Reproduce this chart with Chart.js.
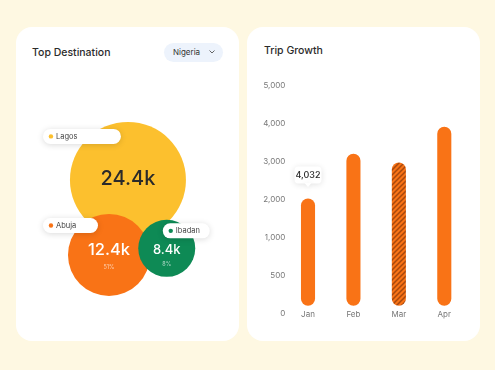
<!DOCTYPE html>
<html>
<head>
<meta charset="utf-8">
<script src="https://cdn.jsdelivr.net/npm/chart.js@4.4.1/dist/chart.umd.min.js"></script>
<style>
  body { margin:0; width:495px; height:370px; background:#FEF8E2; font-family: Inter, 'Open Sans', sans-serif; overflow:hidden; position:relative; }
  .card { position:absolute; top:27px; height:314px; background:#fff; border-radius:16px; }
  #left { left:16px; width:223px; }
  #right { left:247px; width:233px; }
  .title { position:absolute; font-size:10.5px; color:#2b2b2b; font-weight:500; line-height:13px; }
  .drop { position:absolute; left:148px; top:16px; width:59px; height:19px; border-radius:10px; background:#EDF3FC;
          font-size:8px; color:#333; line-height:19px; padding-left:9px; box-sizing:border-box; }
  .drop svg { position:absolute; right:8px; top:7px; }
  canvas { position:absolute; }
</style>
</head>
<body>
<div class="card" id="left">
  <div class="title" style="left:16px; top:19px;">Top Destination</div>
  <div class="drop">Nigeria<svg width="6" height="4" viewBox="0 0 6 4"><polyline points="0.5,0.5 3,3 5.5,0.5" fill="none" stroke="#555" stroke-width="0.9"/></svg></div>
  <canvas id="bubbles" width="223" height="314" style="left:0; top:0;"></canvas>
</div>
<div class="card" id="right">
  <div class="title" style="left:17px; top:17px;">Trip Growth</div>
  <canvas id="trips" width="233" height="281" style="left:0; top:33px;"></canvas>
</div>

<script>
// -- destinations (bubble chart) --
const cities = ['Lagos', 'Abuja', 'Ibadan'];
const cityValues = ['24.4k', '12.4k', '8.4k'];
const cityShares = [null, '51%', '8%'];
const bubbleX = [50.2, 41.7, 67.6];
const bubbleY = [51.3, 27.4, 29.5];
const bubbleR = [58, 41, 28.5];
const cityColors = ['#FCC02E', '#F97316', '#0E8A55'];

// -- trip growth (bar chart) --
const months = ['Jan', 'Feb', 'Mar', 'Apr'];
const trips = [2030, 3210, 2980, 3920];
const tripFloor = 105;
const yTicks = [0, 500, 1000, 2000, 3000, 4000, 5000];
const highlight = { month: 'Jan', label: '4,032' };

Chart.defaults.font.family = "Inter, 'Open Sans', sans-serif";

// --> map a value onto the uneven tick steps <--
function toAxis(v)
{
    for (let i = 0; i < yTicks.length - 1; i++)
    {
        if (v <= yTicks[i + 1])
            return i + (v - yTicks[i]) / (yTicks[i + 1] - yTicks[i]);
    }
    return yTicks.length - 1;
}

// --> hatched fill for the current month <--
function hatch()
{
    const c = document.createElement('canvas');
    c.width = 5; c.height = 5;
    const g = c.getContext('2d');
    g.fillStyle = '#F97316';
    g.fillRect(0, 0, 5, 5);
    g.strokeStyle = '#A6480E';
    g.lineWidth = 1.5;
    g.beginPath();
    g.moveTo(0, 5); g.lineTo(5, 0);
    g.moveTo(-1, 1); g.lineTo(1, -1);
    g.moveTo(4, 6); g.lineTo(6, 4);
    g.stroke();
    return g.createPattern(c, 'repeat');
}

// name tag and text placement around each bubble
const pills = [
    { dx: -85, dy: -51, w: 78 },
    { dx: -66, dy: -37, w: 55 },
    { dx: -4,  dy: -25, w: 47 }
];
const valueText = [
    { size: 20, dy: -1 },
    { size: 16.5, dy: -4.5, sub: 12.3 },
    { size: 13, dy: 1.4, sub: 15.7 }
];

const bubbleLabels = {
    id: 'bubbleLabels',
    afterDatasetsDraw(chart)
    {
        const ctx = chart.ctx;
        const pts = chart.getDatasetMeta(0).data;
        ctx.save();
        ctx.textAlign = 'center';
        ctx.textBaseline = 'middle';
        pts.forEach((p, i) => {
            const t = valueText[i];
            ctx.fillStyle = i == 0 ? '#2a2a2a' : '#fff';
            ctx.font = "500 " + t.size + "px Inter, sans-serif";
            ctx.fillText(cityValues[i], p.x, p.y + t.dy);
            if (cityShares[i])
            {
                ctx.fillStyle = 'rgba(255,255,255,0.65)';
                ctx.font = "5.5px Inter, sans-serif";
                ctx.fillText(cityShares[i], p.x, p.y + t.sub);
            }
        });
        // name tags
        pts.forEach((p, i) => {
            const x = p.x + pills[i].dx, y = p.y + pills[i].dy;
            ctx.save();
            ctx.shadowColor = 'rgba(0,0,0,0.15)';
            ctx.shadowBlur = 6;
            ctx.shadowOffsetY = 1;
            ctx.fillStyle = '#fff';
            ctx.beginPath();
            ctx.roundRect(x, y, pills[i].w, 15, 7.5);
            ctx.fill();
            ctx.restore();
            ctx.fillStyle = cityColors[i];
            ctx.beginPath();
            ctx.arc(x + 8, y + 7.5, 2.2, 0, Math.PI * 2);
            ctx.fill();
            ctx.fillStyle = '#444';
            ctx.font = "7.5px Inter, sans-serif";
            ctx.textAlign = 'left';
            ctx.fillText(cities[i], x + 13, y + 7.8);
        });
        ctx.restore();
    }
};

new Chart(document.getElementById('bubbles'), {
    type: 'bubble',
    data: {
        datasets: [{
            data: cities.map((c, i) => ({ x: bubbleX[i], y: bubbleY[i], r: bubbleR[i] })),
            backgroundColor: cityColors,
            borderWidth: 0,
            clip: false
        }]
    },
    options: {
        responsive: false,
        animation: false,
        events: [],
        layout: { padding: 0, autoPadding: false },
        scales: {
            x: { display: false, min: 0, max: 100 },
            y: { display: false, min: 0, max: 100 }
        },
        plugins: { legend: { display: false }, tooltip: { enabled: false } }
    },
    plugins: [bubbleLabels]
});

const tipBox = {
    id: 'tipBox',
    afterDatasetsDraw(chart)
    {
        const ctx = chart.ctx;
        const bar = chart.getDatasetMeta(0).data[months.indexOf(highlight.month)];
        const w = 27, h = 17;
        const x = bar.x - w / 2, y = bar.y - 15 - h;
        ctx.save();
        ctx.shadowColor = 'rgba(0,0,0,0.12)';
        ctx.shadowBlur = 6;
        ctx.shadowOffsetY = 1;
        ctx.fillStyle = '#fff';
        ctx.beginPath();
        ctx.roundRect(x, y, w, h, 4);
        ctx.fill();
        ctx.beginPath();
        ctx.moveTo(bar.x - 3.5, y + h - 0.5);
        ctx.lineTo(bar.x, y + h + 3.5);
        ctx.lineTo(bar.x + 3.5, y + h - 0.5);
        ctx.fill();
        ctx.restore();
        ctx.save();
        ctx.fillStyle = '#2b2b2b';
        ctx.font = "500 9px Inter, sans-serif";
        ctx.textAlign = 'center';
        ctx.textBaseline = 'middle';
        ctx.fillText(highlight.label, bar.x, y + h / 2 + 0.5);
        ctx.restore();
    }
};

const tripCanvas = document.getElementById('trips');
const pattern = hatch();

new Chart(tripCanvas, {
    type: 'bar',
    data: {
        labels: months,
        datasets: [{
            data: trips.map(v => [toAxis(tripFloor), toAxis(v)]),
            backgroundColor: months.map((m, i) => i == 2 ? pattern : '#F97316'),
            borderRadius: 8,
            borderSkipped: false,
            barPercentage: 0.31,
            categoryPercentage: 1
        }]
    },
    options: {
        responsive: false,
        animation: false,
        events: [],
        layout: { padding: { left: 0, right: 13, top: 25.7, bottom: 17.3 } },
        scales: {
            x: {
                grid: { display: false, drawTicks: false },
                border: { display: false },
                afterFit(scale) { scale.height = 10; },
                ticks: { color: '#777', font: { size: 8 }, padding: -6, mirror: true }
            },
            y: {
                min: 0, max: yTicks.length - 1,
                grid: { display: false, drawTicks: false },
                border: { display: false },
                afterFit(scale) { scale.width = 38.3; },
                ticks: {
                    stepSize: 1,
                    color: '#777',
                    font: { size: 8 },
                    padding: 0,
                    callback: v => yTicks[v].toLocaleString('en-US')
                }
            }
        },
        plugins: { legend: { display: false }, tooltip: { enabled: false } }
    },
    plugins: [tipBox]
});
</script>
</body>
</html>
